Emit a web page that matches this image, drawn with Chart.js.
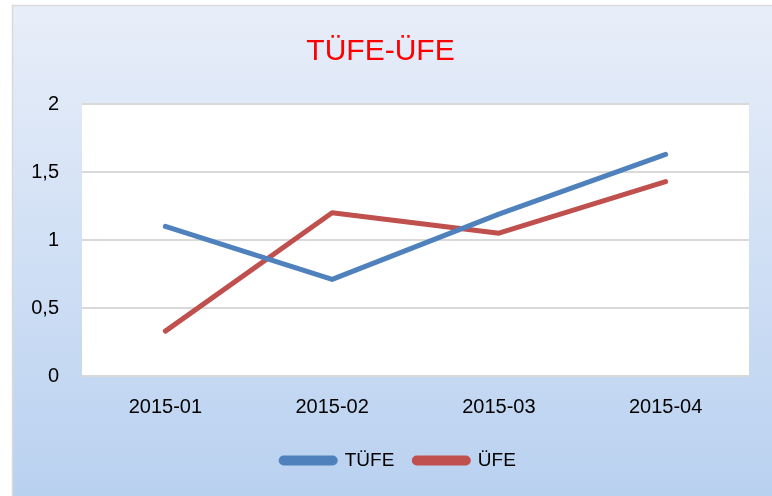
<!DOCTYPE html>
<html>
<head>
<meta charset="utf-8">
<script src="https://cdn.jsdelivr.net/npm/chart.js@4"></script>
<style>
  html, body { margin: 0; padding: 0; background: #fff; }
  #wrap { width: 772px; height: 496px; }
</style>
</head>
<body>
<div id="wrap"><canvas id="chart" width="772" height="496"></canvas></div>
<script>
const FONT = "'Liberation Sans', Arial, sans-serif";

const months = ["2015-01", "2015-02", "2015-03", "2015-04"];
const tufe = [1.1, 0.71, 1.19, 1.63];
const ufe = [0.33, 1.2, 1.05, 1.43];

// frame gradient + white plot area
const backdrop = {
  id: "backdrop",
  beforeDraw(chart) {
    const { ctx, width, height, chartArea: a } = chart;
    ctx.save();
    ctx.fillStyle = "#fff";
    ctx.fillRect(0, 0, width, height);
    const g = ctx.createLinearGradient(0, 5, 0, height);
    g.addColorStop(0, "#E8EEF9");
    g.addColorStop(1, "#B9D1F0");
    ctx.fillStyle = g;
    ctx.fillRect(12, 5, width - 12, height - 5);
    ctx.strokeStyle = "#D9D9D9";
    ctx.lineWidth = 1.5;
    ctx.beginPath();
    ctx.moveTo(12.5, height);
    ctx.lineTo(12.5, 5.5);
    ctx.lineTo(width, 5.5);
    ctx.stroke();
    ctx.fillStyle = "#fff";
    ctx.fillRect(a.left, a.top, a.right - a.left, a.bottom - a.top);
    ctx.restore();
  },
  // legend sits a bit right of the plot centre in the original
  afterLayout(chart) {
    chart.legend.left += 18;
    chart.legend.right += 18;
  },
};

const lineStyle = (color) => ({
  borderColor: color,
  backgroundColor: color,
  borderWidth: 5,
  borderCapStyle: "round",
  borderJoinStyle: "round",
  pointRadius: 0,
  pointHoverRadius: 0,
  tension: 0,
  fill: false,
});

new Chart(document.getElementById("chart"), {
  type: "line",
  data: {
    labels: months,
    datasets: [
      { label: "TÜFE", data: tufe, ...lineStyle("#4F81BD") },
      { label: "ÜFE", data: ufe, ...lineStyle("#C0504D") },
    ],
  },
  plugins: [backdrop],
  options: {
    responsive: false,
    animation: false,
    layout: { padding: { top: 5, left: 12, right: 23, bottom: 16 } },
    plugins: {
      title: {
        display: true,
        text: "TÜFE-ÜFE",
        color: "#FF0000",
        font: { family: FONT, size: 30, weight: "normal" },
        padding: { top: 29, bottom: 34 },
      },
      legend: {
        position: "bottom",
        labels: {
          color: "#000",
          font: { family: FONT, size: 19 },
          boxWidth: 54,
          boxHeight: 5,
          useBorderRadius: true,
          borderRadius: 2.5,
          padding: 20,
        },
      },
      tooltip: { enabled: false },
    },
    scales: {
      x: {
        offset: true,
        grid: { display: false, drawTicks: false },
        border: { display: false },
        ticks: { color: "#000", font: { family: FONT, size: 20 }, padding: 19, maxRotation: 0 },
        afterFit: (s) => { s.height = 55; },
      },
      y: {
        min: 0,
        max: 2,
        grid: { color: "#D9D9D9", lineWidth: 2, drawTicks: false },
        border: { display: false },
        ticks: {
          stepSize: 0.5,
          color: "#000",
          font: { family: FONT, size: 20 },
          padding: 23,
          callback: (v) => String(v).replace(".", ","),
        },
        afterFit: (s) => { s.width = 70; },
      },
    },
  },
});
</script>
</body>
</html>
